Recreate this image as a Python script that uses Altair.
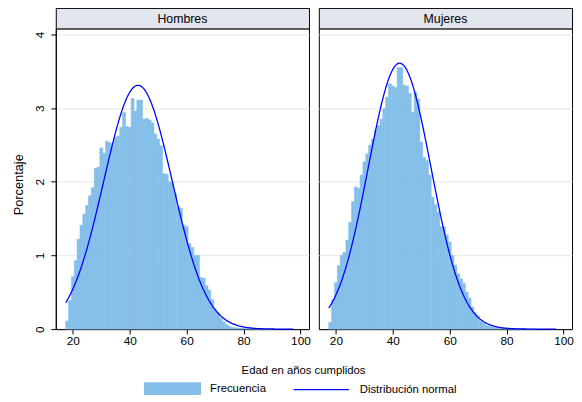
import altair as alt
import numpy as np
import pandas as pd

# ---------------- data ----------------
ages = list(range(18, 91))
hombres_pct = [0.11, 0.39, 0.71, 0.93, 1.22, 1.41, 1.56, 1.68, 1.81, 1.92,   # 18-27
               2.18, 2.20, 2.46, 2.39, 2.55, 2.53, 2.49, 2.60, 2.62, 2.74,   # 28-37
               2.94, 2.75, 2.74, 3.13, 2.96, 3.11, 3.11, 2.85, 2.86, 2.84,   # 38-47
               2.80, 2.65, 2.58, 2.49, 2.11, 2.10, 2.00, 1.98, 1.84, 1.66,   # 48-57
               1.64, 1.41, 1.39, 1.16, 1.11, 1.00, 1.00, 0.70, 0.69, 0.59,   # 58-67
               0.53, 0.40, 0.27, 0.22, 0.15, 0.10, 0.06, 0.04, 0.02, 0.02,   # 68-77
               0.015, 0.01, 0.01, 0.01, 0.01, 0.01, 0.008, 0.006, 0.005, 0.004,
               0.003, 0.003, 0.002]                                           # 78-90
mujeres_pct = [0.09, 0.40, 0.63, 0.86, 1.00, 1.04, 1.21, 1.45, 1.73, 1.93,   # 18-27
               1.91, 2.09, 2.27, 2.38, 2.50, 2.58, 2.70, 2.76, 2.85, 2.99,   # 28-37
               3.15, 3.33, 3.30, 3.28, 3.55, 3.55, 3.31, 3.30, 3.20, 2.94,   # 38-47
               3.21, 3.12, 2.54, 2.33, 2.29, 2.09, 1.79, 1.69, 1.59, 1.39,   # 48-57
               1.39, 1.28, 1.18, 1.00, 0.87, 0.75, 0.68, 0.62, 0.50, 0.42,   # 58-67
               0.30, 0.22, 0.18, 0.11, 0.08, 0.05, 0.04, 0.03, 0.02, 0.02,   # 68-77
               0.015, 0.01, 0.01, 0.01, 0.008, 0.006, 0.005, 0.004, 0.003, 0.003,
               0.002, 0.002, 0.002]                                           # 78-90
genders = ["Hombres", "Mujeres"]
norm_mean = [42.9, 42.4]
norm_sd = [12.05, 11.05]
curve_range = [17.5, 97.5]
x_ticks = [20, 40, 60, 80, 100]
y_ticks = [0, 1, 2, 3, 4]
series = ["Frecuencia", "Distribución normal"]
x_title = "Edad en años cumplidos"
y_title = "Porcentaje"

BAR = "#84BFE9"
LINE = "#0000FF"
HEAD = "#E1E6EF"
GRID = "#E6E6E6"
FONT = "Liberation Sans"

W, H, HH = 257, 305, 21
xs = alt.Scale(domain=[14, 103], nice=False, zero=False)
ys = alt.Scale(domain=[0, 4.08], nice=False)

values = [hombres_pct, mujeres_pct]


def header(i):
    return alt.Chart(pd.DataFrame({"t": [genders[i]]})).mark_text(
        font=FONT, fontSize=12.5, color="black"
    ).encode(
        text="t:N", x=alt.value(W / 2), y=alt.value(HH / 2 + 0.5)
    ).properties(
        width=W, height=HH,
        view=alt.ViewBackground(fill=HEAD, stroke="black", strokeWidth=1),
    )


def main(i):
    first = i == 0
    a = np.array(ages, dtype=float)
    bdf = pd.DataFrame({"lo": a - 0.5, "hi": a + 0.5, "pct": values[i],
                        "base": 0.0, "serie": series[0]})
    grid = np.arange(curve_range[0], curve_range[1] + 1e-9, 0.25)
    m, s = norm_mean[i], norm_sd[i]
    dens = 100.0 * np.exp(-0.5 * ((grid - m) / s) ** 2) / (s * np.sqrt(2 * np.pi))
    cdf = pd.DataFrame({"age": grid, "pct": dens, "serie": series[1]})

    if first:
        xaxis = alt.Axis(values=x_ticks, title=x_title, grid=False, tickSize=5,
                         labelFontSize=12, labelPadding=2, titleFontSize=11.5,
                         titleFontWeight="normal", titleX=251, titleY=42,
                         titleBaseline="middle", titleAlign="center")
        yaxis = alt.Axis(values=y_ticks, title=y_title, grid=True, gridColor=GRID,
                         format="d", tickSize=5, labelAngle=-90, labelAlign="center",
                         labelBaseline="bottom", labelPadding=4, labelFontSize=12,
                         titleFontSize=13, titleFontWeight="normal",
                         titleX=-37.5, titleY=158, titleAngle=-90,
                         titleBaseline="middle", titleAlign="center")
        fill = alt.Fill("serie:N", scale=alt.Scale(domain=[series[0]], range=[BAR]),
                        legend=alt.Legend(title=None, orient="none", legendX=112,
                                          legendY=380, padding=0,
                                          symbolType="M-4.46,-1L4.46,-1L4.46,1L-4.46,1Z",
                                          symbolSize=169, symbolStrokeWidth=0,
                                          labelOffset=31.5, labelFontSize=11.5,
                                          labelFont=FONT, labelColor="black"))
        stroke = alt.Stroke("serie:N", scale=alt.Scale(domain=[series[1]], range=[LINE]),
                            legend=alt.Legend(title=None, orient="none", legendX=262,
                                              legendY=380, padding=0,
                                              symbolType="M-4.31,0L4.31,0",
                                              symbolSize=169, symbolStrokeWidth=1.3,
                                              labelOffset=31.5, labelFontSize=11.5,
                                              labelFont=FONT, labelColor="black"))
    else:
        xaxis = alt.Axis(values=x_ticks, title=None, grid=False, tickSize=5,
                         labelFontSize=12, labelPadding=2)
        yaxis = alt.Axis(values=y_ticks, title=None, grid=True, gridColor=GRID,
                         labels=False, ticks=False, domain=False)
        fill = alt.value(BAR)
        stroke = alt.value(LINE)

    bars = alt.Chart(bdf).mark_rect(stroke=BAR, strokeWidth=0.6).encode(
        x=alt.X("lo:Q", scale=xs, axis=xaxis),
        x2="hi:Q",
        y=alt.Y("pct:Q", scale=ys, axis=yaxis),
        y2="base:Q",
        fill=fill,
    )
    curve = alt.Chart(cdf).mark_line(strokeWidth=1.3).encode(
        x=alt.X("age:Q", scale=xs),
        y=alt.Y("pct:Q", scale=ys),
        stroke=stroke,
    )
    return alt.layer(bars, curve).properties(
        width=W, height=H,
        view=alt.ViewBackground(fill="white", stroke="black", strokeWidth=1),
    )


chart = alt.concat(
    header(0), header(1), main(0), main(1),
    columns=2, spacing={"row": 0, "column": 10}, bounds="flush",
).properties(
    padding={"left": 4.5, "top": -4, "right": 0, "bottom": 0},
).configure(font=FONT).configure_axis(
    labelFont=FONT, titleFont=FONT, labelColor="black", titleColor="black",
    domainColor="black", tickColor="black",
)

chart.save("out.html", embed_options={"renderer": "svg", "actions": False})
